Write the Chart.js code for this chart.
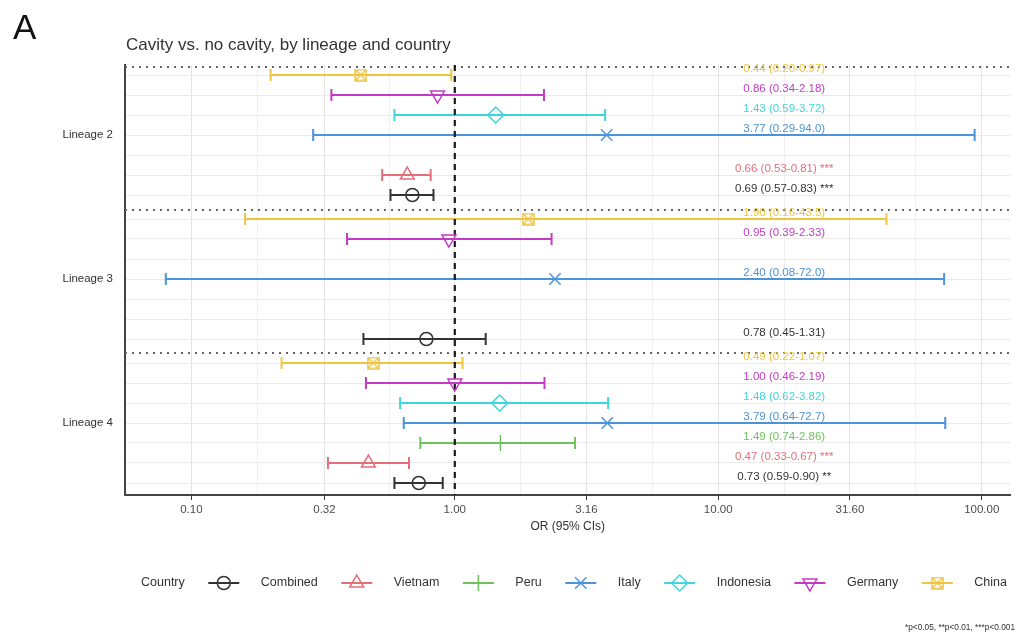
<!DOCTYPE html>
<html lang="en">
<head>
<meta charset="UTF-8"/>
<title>Cavity vs. no cavity, by lineage and country</title>
<script src="https://cdn.jsdelivr.net/npm/chart.js"></script>
<style>
  body { margin: 0; background: #fff; }
  #wrap { width: 1020px; height: 638px; }
</style>
<script>
// rows inside each lineage block, top to bottom
const lineages = ['Lineage 2', 'Lineage 3', 'Lineage 4'];
const countries = ['China', 'Germany', 'Indonesia', 'Italy', 'Peru', 'Vietnam', 'Combined'];
const colors = ['#EEC443', '#C23BC6', '#3FD6DA', '#4B94D8', '#6DC35B', '#E66E78', '#333333'];

// odds ratios and 95% CIs, one array per lineage (null = no estimate)
const or2 = [0.44, 0.86, 1.43, 3.77, null, 0.66, 0.69];
const lo2 = [0.20, 0.34, 0.59, 0.29, null, 0.53, 0.57];
const hi2 = [0.97, 2.18, 3.72, 94.0, null, 0.81, 0.83];
const sig2 = ['', '', '', '', '', '***', '***'];

const or3 = [1.90, 0.95, null, 2.40, null, null, 0.78];
const lo3 = [0.16, 0.39, null, 0.08, null, null, 0.45];
const hi3 = [43.5, 2.33, null, 72.0, null, null, 1.31];
const sig3 = ['', '', '', '', '', '', ''];

const or4 = [0.49, 1.00, 1.48, 3.79, 1.49, 0.47, 0.73];
const lo4 = [0.22, 0.46, 0.62, 0.64, 0.74, 0.33, 0.59];
const hi4 = [1.07, 2.19, 3.82, 72.7, 2.86, 0.67, 0.90];
const sig4 = ['', '', '', '', '', '***', '**'];

const xTicks = [0.1, 0.32, 1, 3.16, 10, 31.6, 100];

const orAll = [or2, or3, or4];
const loAll = [lo2, lo3, lo4];
const hiAll = [hi2, hi3, hi4];
const sigAll = [sig2, sig3, sig4];

const GROUP_STEP = 7.2;
const FONT = '"Liberation Sans", Arial, sans-serif';

function rowPos(g, c) { return g * GROUP_STEP + c; }
function fmt(v) { return v >= 10 ? v.toFixed(1) : v.toFixed(2); }

function squareCross(color) {
    const s = 13;
    const cv = document.createElement('canvas');
    cv.width = s; cv.height = s;
    const g = cv.getContext('2d');
    g.strokeStyle = color;
    g.lineWidth = 1.5;
    g.strokeRect(1, 1, s - 2, s - 2);
    g.beginPath();
    g.moveTo(1, 1); g.lineTo(s - 1, s - 1);
    g.moveTo(s - 1, 1); g.lineTo(1, s - 1);
    g.stroke();
    return cv;
}

const markers = [
    { pointStyle: squareCross(colors[0]), rotation: 0, radius: 7 },
    { pointStyle: 'triangle', rotation: 180, radius: 8 },
    { pointStyle: 'rectRot', rotation: 0, radius: 8 },
    { pointStyle: 'crossRot', rotation: 0, radius: 8 },
    { pointStyle: 'cross', rotation: 0, radius: 8 },
    { pointStyle: 'triangle', rotation: 0, radius: 8 },
    { pointStyle: 'circle', rotation: 0, radius: 6.5 }
];

function isMajor(v) {
    return xTicks.some(t => Math.abs(Math.log10(t) - Math.log10(v)) < 1e-3);
}

const forestPlugin = {
    id: 'forest',
    beforeDatasetsDraw(chart) {
        const ctx = chart.ctx, xs = chart.scales.x, ys = chart.scales.y, area = chart.chartArea;
        ctx.save();
        // lineage separators
        ctx.strokeStyle = '#666';
        ctx.lineWidth = 2;
        ctx.setLineDash([2, 5]);
        [-0.4, 6.75, 13.9].forEach(p => {
            const y = Math.round(ys.getPixelForValue(p));
            ctx.beginPath(); ctx.moveTo(area.left, y); ctx.lineTo(area.right, y); ctx.stroke();
        });
        ctx.setLineDash([]);
        // error bars
        ctx.lineWidth = 2;
        for (let g = 0; g < lineages.length; g++) {
            for (let c = 0; c < countries.length; c++) {
                if (orAll[g][c] == null) continue;
                const y = ys.getPixelForValue(rowPos(g, c));
                const x1 = xs.getPixelForValue(loAll[g][c]);
                const x2 = xs.getPixelForValue(hiAll[g][c]);
                ctx.strokeStyle = colors[c];
                ctx.beginPath();
                ctx.moveTo(x1, y); ctx.lineTo(x2, y);
                ctx.moveTo(x1, y - 6); ctx.lineTo(x1, y + 6);
                ctx.moveTo(x2, y - 6); ctx.lineTo(x2, y + 6);
                ctx.stroke();
            }
        }
        // reference line at OR = 1
        const x0 = xs.getPixelForValue(1);
        ctx.strokeStyle = '#1a1a1a';
        ctx.lineWidth = 2.2;
        ctx.setLineDash([6, 5]);
        ctx.beginPath(); ctx.moveTo(x0, area.top); ctx.lineTo(x0, area.bottom); ctx.stroke();
        ctx.restore();
    },
    afterDatasetsDraw(chart) {
        const ctx = chart.ctx, xs = chart.scales.x, ys = chart.scales.y;
        ctx.save();
        ctx.font = '11.5px ' + FONT;
        ctx.textAlign = 'center';
        ctx.textBaseline = 'middle';
        const lx = xs.getPixelForValue(17.8);
        for (let g = 0; g < lineages.length; g++) {
            for (let c = 0; c < countries.length; c++) {
                if (orAll[g][c] == null) continue;
                const y = ys.getPixelForValue(rowPos(g, c)) - 6;
                let txt = fmt(orAll[g][c]) + ' (' + fmt(loAll[g][c]) + '-' + fmt(hiAll[g][c]) + ')';
                if (sigAll[g][c]) txt += ' ' + sigAll[g][c];
                ctx.fillStyle = colors[c];
                ctx.fillText(txt, lx, y);
            }
        }
        ctx.restore();
    },
    afterDraw(chart) {
        const ctx = chart.ctx;
        ctx.save();
        ctx.fillStyle = '#111';
        ctx.textBaseline = 'alphabetic';
        ctx.textAlign = 'left';
        ctx.font = '35px ' + FONT;
        ctx.fillText('A', 13, 39);
        ctx.fillStyle = '#333';
        ctx.font = '17px ' + FONT;
        ctx.fillText('Cavity vs. no cavity, by lineage and country', 126, 50);

        // legend
        const ly = 583;
        ctx.font = '12.5px ' + FONT;
        ctx.textBaseline = 'middle';
        ctx.fillStyle = '#333';
        let x = 141;
        ctx.fillText('Country', x, ly);
        x += ctx.measureText('Country').width + 23.5;
        for (let c = countries.length - 1; c >= 0; c--) {
            ctx.strokeStyle = colors[c];
            ctx.lineWidth = 2;
            ctx.beginPath(); ctx.moveTo(x, ly); ctx.lineTo(x + 31, ly); ctx.stroke();
            ctx.fillStyle = 'rgba(0,0,0,0)';
            ctx.lineWidth = 1.5;
            Chart.helpers.drawPoint(ctx, {
                pointStyle: markers[c].pointStyle, rotation: markers[c].rotation,
                radius: markers[c].radius, borderWidth: 1.5
            }, x + 15.5, ly);
            x += 31 + 21.5;
            ctx.fillStyle = '#333';
            ctx.fillText(countries[c], x, ly);
            x += ctx.measureText(countries[c]).width + 23.5;
        }
        ctx.font = '8.3px ' + FONT;
        ctx.textAlign = 'right';
        ctx.fillText('*p<0.05, **p<0.01, ***p<0.001', 1015, 628);
        ctx.restore();
    }
};

window.addEventListener('load', function () {
    Chart.defaults.font.family = FONT;
    const datasets = countries.map((name, c) => ({
        label: name,
        data: lineages.map((_, g) => orAll[g][c] == null ? null : { x: orAll[g][c], y: rowPos(g, c) })
                      .filter(p => p !== null),
        showLine: false,
        borderColor: colors[c],
        backgroundColor: 'rgba(0,0,0,0)',
        borderWidth: 1.5,
        pointStyle: markers[c].pointStyle,
        rotation: markers[c].rotation,
        pointRadius: markers[c].radius,
        pointHoverRadius: markers[c].radius
    }));

    const rows = [];
    for (let g = 0; g < lineages.length; g++)
        for (let c = 0; c < countries.length; c++) rows.push(rowPos(g, c));

    const gridVals = [];
    for (let i = 0; i < xTicks.length; i++) {
        gridVals.push(xTicks[i]);
        if (i < xTicks.length - 1) gridVals.push(Math.sqrt(xTicks[i] * xTicks[i + 1]));
    }

    new Chart(document.getElementById('forest'), {
        type: 'scatter',
        data: { datasets: datasets },
        options: {
            responsive: false,
            animation: false,
            devicePixelRatio: 1,
            layout: { padding: { top: 65, right: 0, bottom: 103, left: 0 } },
            plugins: { legend: { display: false }, tooltip: { enabled: false } },
            scales: {
                x: {
                    type: 'logarithmic',
                    min: 0.0560,
                    max: 128.6,
                    afterBuildTicks: s => { s.ticks = gridVals.map(v => ({ value: v })); },
                    afterFit: s => { s.height = 40; },
                    ticks: {
                        autoSkip: false, maxRotation: 0, padding: 3,
                        color: '#4d4d4d', font: { size: 11.5 },
                        callback: v => isMajor(v) ? v.toFixed(2) : ''
                    },
                    grid: {
                        color: c => (c.tick && isMajor(c.tick.value)) ? '#e4e4e4' : '#f0f0f0',
                        lineWidth: 1,
                        tickLength: 5,
                        tickColor: c => (c.tick && isMajor(c.tick.value)) ? '#333' : 'rgba(0,0,0,0)'
                    },
                    border: { color: '#444', width: 2 },
                    title: {
                        display: true, text: 'OR (95% CIs)', color: '#333',
                        font: { size: 12 }, padding: { top: 0, bottom: 1 }
                    }
                },
                y: {
                    type: 'linear',
                    reverse: true,
                    min: -0.5,
                    max: 21,
                    afterBuildTicks: s => { s.ticks = rows.map(v => ({ value: v })); },
                    afterFit: s => { s.width = 125; },
                    ticks: {
                        autoSkip: false, padding: 12, color: '#333', font: { size: 11.5 },
                        callback: v => {
                            for (let g = 0; g < lineages.length; g++)
                                if (Math.abs(v - rowPos(g, 3)) < 1e-6) return lineages[g];
                            return '';
                        }
                    },
                    grid: { color: '#ebebeb', drawTicks: false },
                    border: { color: '#444', width: 2 }
                }
            }
        },
        plugins: [forestPlugin]
    });
}, false);
</script>
</head>
<body>
  <div id="wrap"><canvas id="forest" width="1020" height="638"></canvas></div>
</body>
</html>
